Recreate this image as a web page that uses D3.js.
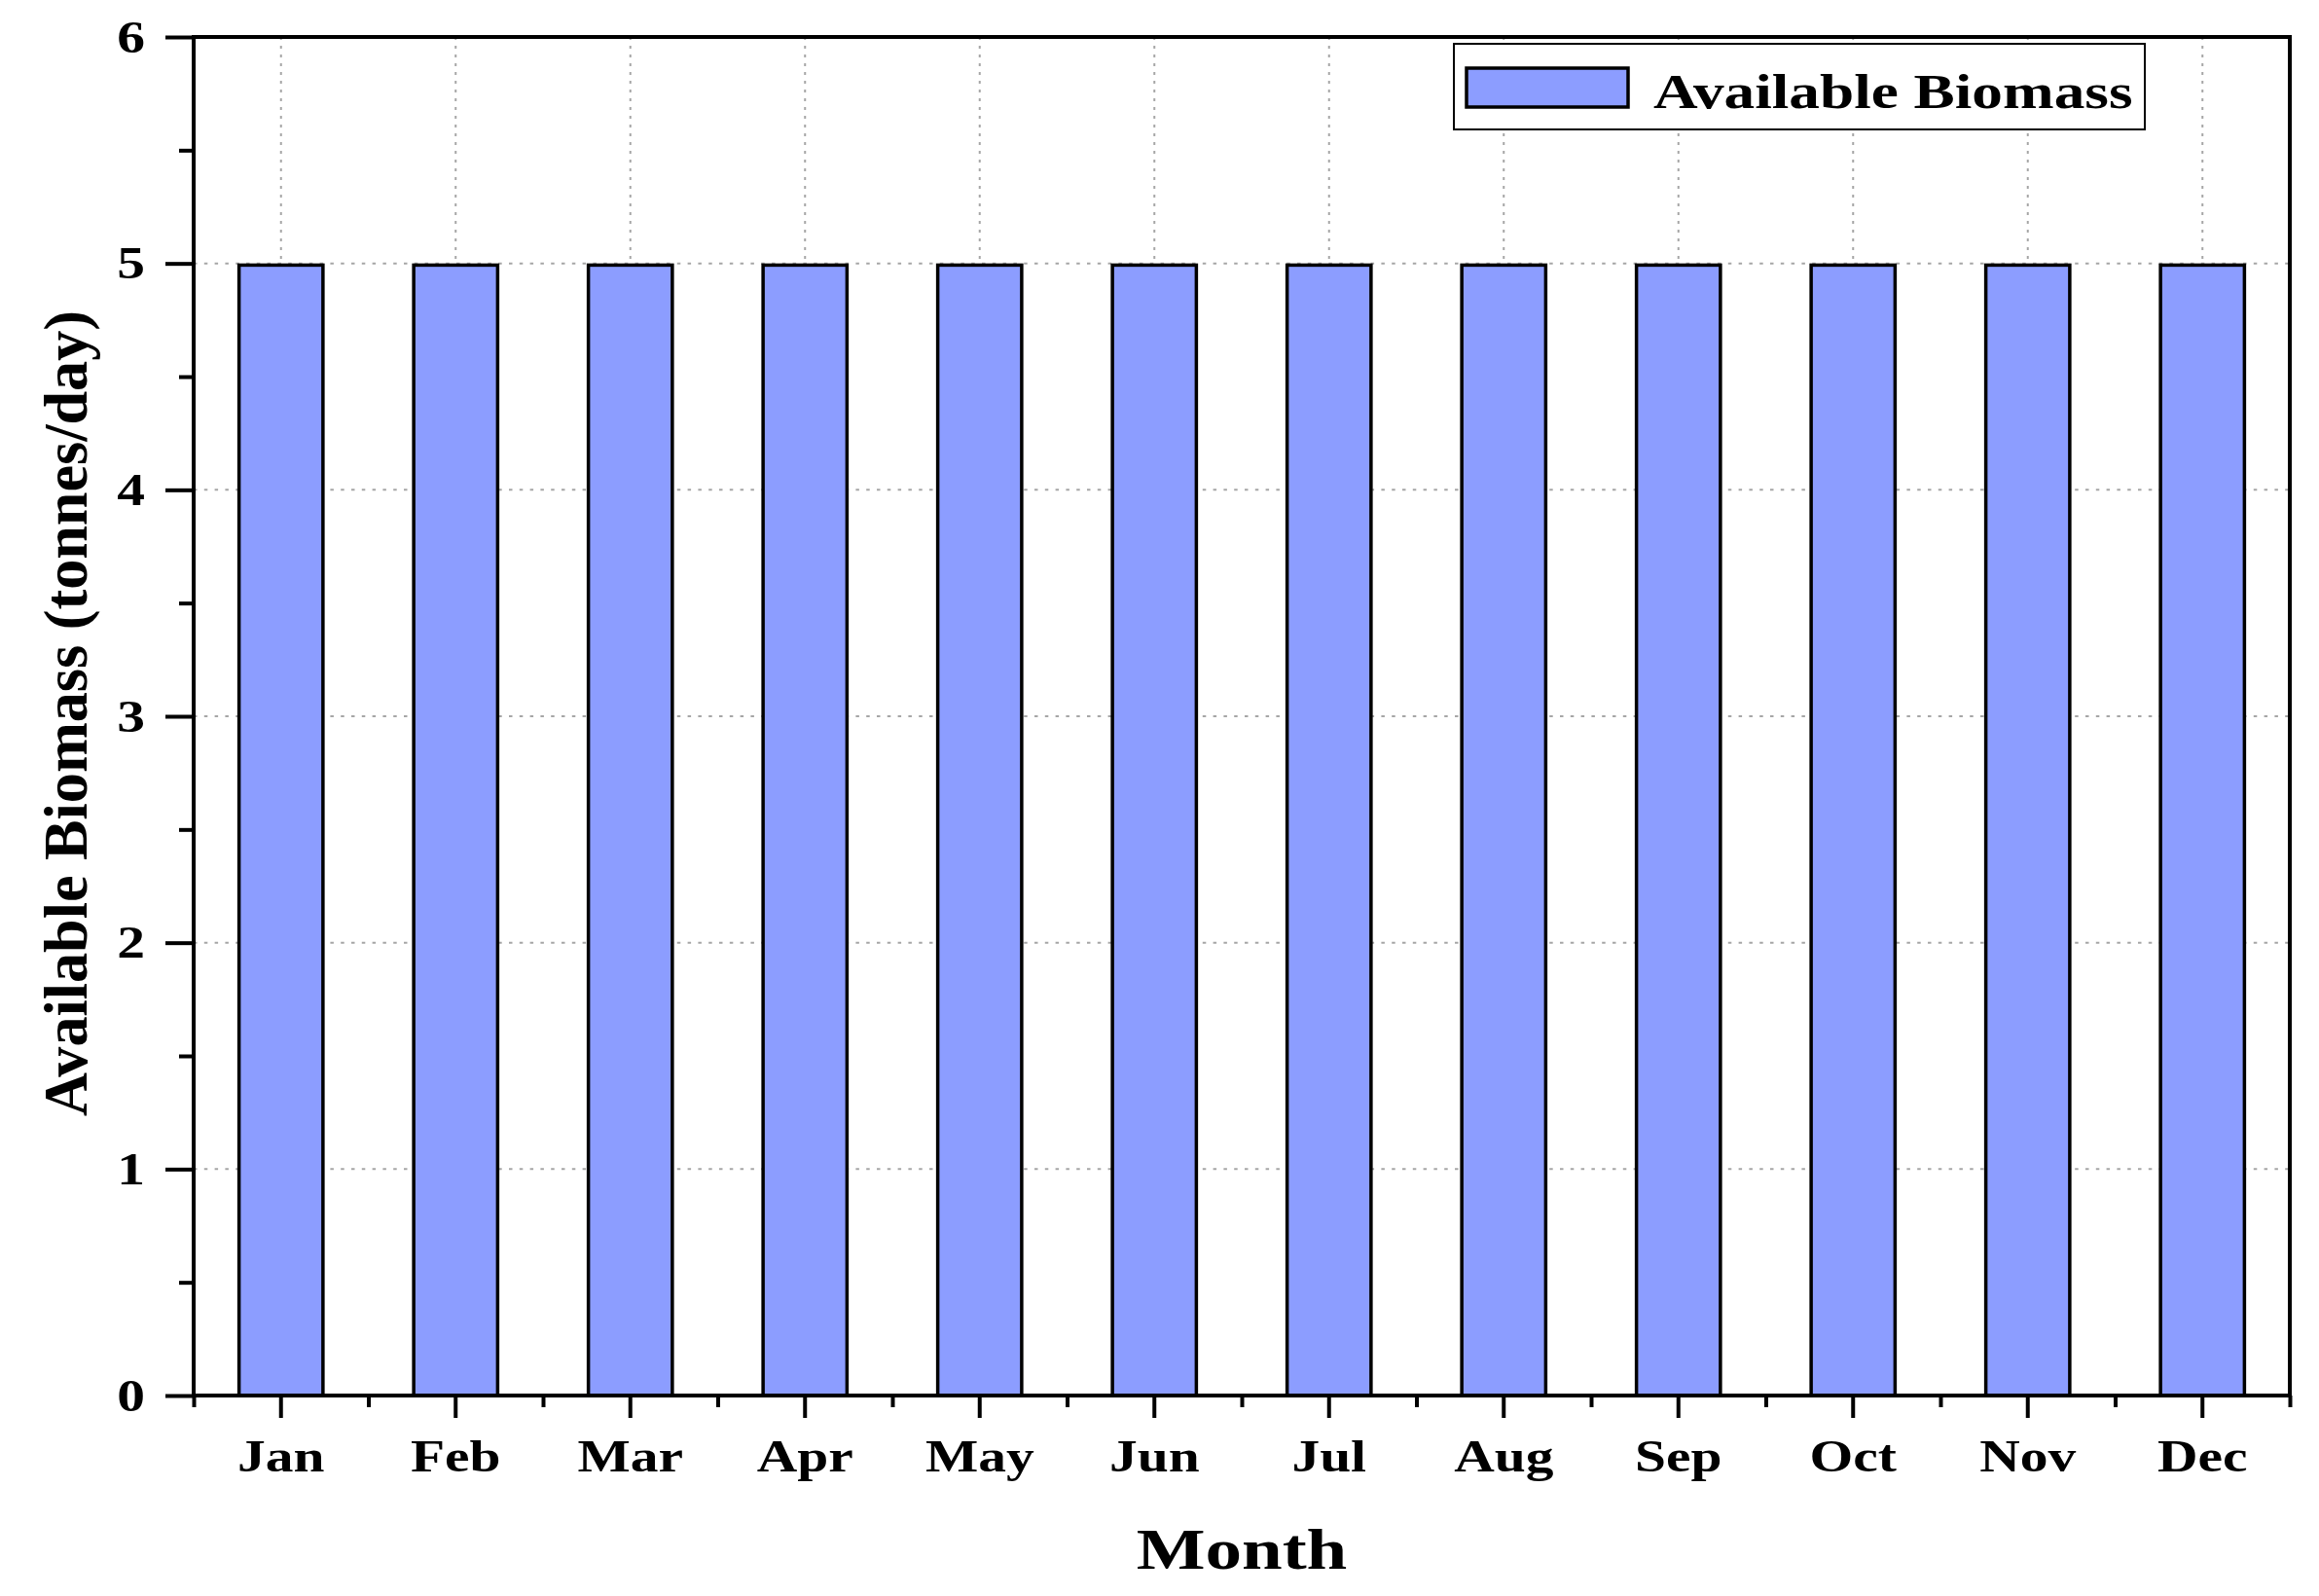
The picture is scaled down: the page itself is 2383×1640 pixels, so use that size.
<!DOCTYPE html>
<html>
<head>
<meta charset="utf-8">
<script src="https://cdn.jsdelivr.net/npm/d3@7"></script>
<style>
    body { margin: 0; background: #fff; }
    svg text { font-family: "Liberation Serif", "Times New Roman", serif; font-weight: bold; fill: #000; }
</style>
</head>
<body>
<svg id="chart"></svg>
<script>
const months = ['Jan', 'Feb', 'Mar', 'Apr', 'May', 'Jun', 'Jul', 'Aug', 'Sep', 'Oct', 'Nov', 'Dec'],
    biomass = [5, 5, 5, 5, 5, 5, 5, 5, 5, 5, 5, 5],
    yTicks = [0, 1, 2, 3, 4, 5, 6],
    seriesName = 'Available Biomass',
    xTitle = 'Month',
    yTitle = 'Available Biomass (tonnes/day)';

const W = 2383, H = 1640,
    plot = { left: 199, right: 2353, top: 38, bottom: 1434 },
    SX = 1.25, // the original is stretched sideways
    barColor = '#8c9dff',
    gridColor = '#a6a6a6';

const svg = d3.select('#chart').attr('width', W).attr('height', H);

const x = d3.scaleBand()
    .domain(months)
    .range([plot.left, plot.right])
    .paddingInner(0.5)
    .paddingOuter(0.25);

const xEdge = d3.scaleLinear().domain([0, months.length]).range([plot.left, plot.right]);

const y = d3.scaleLinear().domain([0, 6]).range([plot.bottom, plot.top]);

// widen glyphs like the source image
function stretch(sel, sx) {
    sel.each(function () {
        const len = this.getComputedTextLength();
        d3.select(this).attr('textLength', len * sx).attr('lengthAdjust', 'spacingAndGlyphs');
    });
}

// grid
svg.append('g')
    .selectAll('line')
    .data(months)
    .join('line')
    .attr('x1', d => x(d) + x.bandwidth() / 2)
    .attr('x2', d => x(d) + x.bandwidth() / 2)
    .attr('y1', plot.top)
    .attr('y2', plot.bottom)
    .attr('stroke', gridColor)
    .attr('stroke-width', 2)
    .attr('stroke-dasharray', '3,6');

svg.append('g')
    .selectAll('line')
    .data(yTicks.slice(1, -1))
    .join('line')
    .attr('x1', plot.left)
    .attr('x2', plot.right)
    .attr('y1', d => y(d))
    .attr('y2', d => y(d))
    .attr('stroke', gridColor)
    .attr('stroke-width', 2)
    .attr('stroke-dasharray', '3.5,7.3');

// bars
const bw = 3.5;
svg.append('g')
    .selectAll('rect')
    .data(months.map((m, i) => ({ m, v: biomass[i] })))
    .join('rect')
    .attr('x', d => x(d.m) + bw / 2)
    .attr('y', d => y(d.v) + bw / 2)
    .attr('width', x.bandwidth() - bw)
    .attr('height', d => y(0) - y(d.v) - bw / 2)
    .attr('fill', barColor)
    .attr('stroke', '#000')
    .attr('stroke-width', bw);

// axes
const xMinor = svg.append('g')
    .attr('transform', `translate(0,${plot.bottom})`)
    .call(d3.axisBottom(xEdge).ticks(months.length).tickSize(12).tickFormat(''));

const xAxis = svg.append('g')
    .attr('transform', `translate(0,${plot.bottom})`)
    .call(d3.axisBottom(x).tickSize(23));

const yMinor = svg.append('g')
    .attr('transform', `translate(${plot.left},0)`)
    .call(d3.axisLeft(y).tickValues(d3.range(0.5, 6, 1)).tickSize(15).tickFormat(''));

const yAxis = svg.append('g')
    .attr('transform', `translate(${plot.left},0)`)
    .call(d3.axisLeft(y).tickValues(yTicks).tickFormat(d3.format('d')).tickSize(29).tickPadding(21));

[xMinor, xAxis, yMinor, yAxis].forEach(g => {
    g.select('.domain').remove();
    g.selectAll('.tick line').attr('stroke', '#000').attr('stroke-width', 4);
});

xAxis.selectAll('.tick text')
    .attr('y', 78)
    .attr('dy', 0)
    .style('font-size', '46px')
    .call(stretch, SX);

yAxis.selectAll('.tick text')
    .style('font-size', '46px')
    .attr('dy', '0.33em')
    .call(stretch, SX);

// frame
svg.append('rect')
    .attr('x', plot.left)
    .attr('y', plot.top)
    .attr('width', plot.right - plot.left)
    .attr('height', plot.bottom - plot.top)
    .attr('fill', 'none')
    .attr('stroke', '#000')
    .attr('stroke-width', 4);

// titles
svg.append('text')
    .attr('x', (plot.left + plot.right) / 2)
    .attr('y', 1612)
    .attr('text-anchor', 'middle')
    .style('font-size', '60px')
    .text(xTitle)
    .call(stretch, SX);

svg.append('text')
    .attr('transform', `translate(89,${(plot.top + plot.bottom) / 2 - 3}) rotate(-90)`)
    .attr('text-anchor', 'middle')
    .style('font-size', '64px')
    .text(yTitle)
    .attr('textLength', 828)
    .attr('lengthAdjust', 'spacingAndGlyphs');

// legend
const legend = svg.append('g');
legend.append('rect')
    .attr('x', 1494).attr('y', 45)
    .attr('width', 710).attr('height', 88)
    .attr('fill', '#fff')
    .attr('stroke', '#000')
    .attr('stroke-width', 2);
legend.append('rect')
    .attr('x', 1507).attr('y', 70)
    .attr('width', 166).attr('height', 40)
    .attr('fill', barColor)
    .attr('stroke', '#000')
    .attr('stroke-width', 3.5);
legend.append('text')
    .attr('x', 1699)
    .attr('y', 111)
    .style('font-size', '51px')
    .text(seriesName)
    .call(stretch, 1.24);
</script>
</body>
</html>
